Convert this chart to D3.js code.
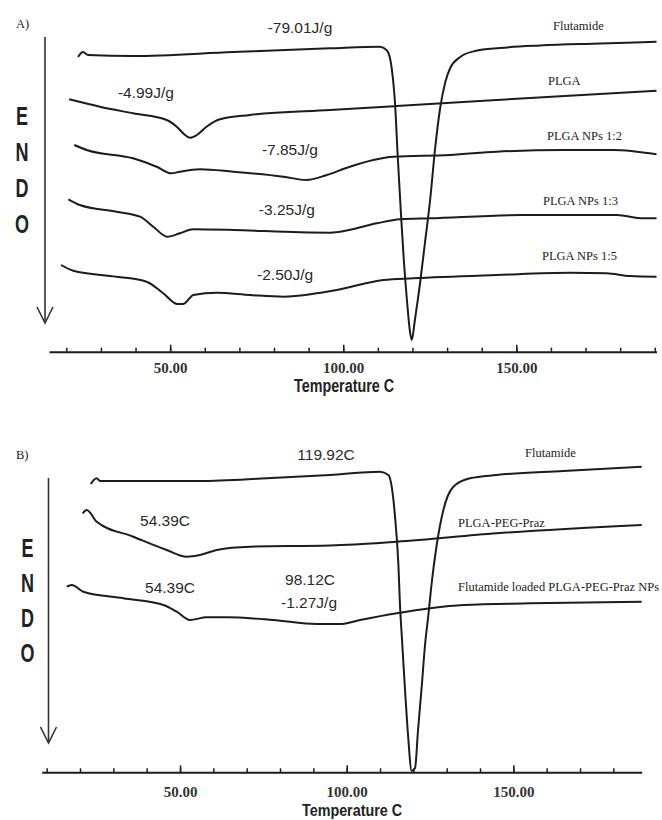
<!DOCTYPE html>
<html>
<head>
<meta charset="utf-8">
<title>DSC thermograms</title>
<style>
  body { margin: 0; background: #fff; }
  svg { display: block; }
</style>
</head>
<body>
<svg id="chart" width="662" height="820"></svg>
<script src="https://cdn.jsdelivr.net/npm/d3@7"></script>
<script>
// ---- data: [temperature C, heat flow (arbitrary units, offset per trace)] ----
// panel A
var flutA = [[23.4,29.47],[24.8,29.97],[26.3,29.67],[39.3,29.57],[68.1,29.97],[96.2,30.34],[110.6,30.5],
  [112.5,30.17],[113.5,29.37],[114.4,27.17],[114.9,25.17],[115.8,19.17],[116.7,13.67],[117.5,9.17],
  [118.4,5.17],[119.3,1.97],[119.8,1.17],[120.7,3.17],[122.2,6.87],[123.6,10.87],[125.1,15.17],
  [126.5,20.17],[128.0,24.37],[129.5,26.97],[130.9,28.37],[133.8,29.47],[138.1,30.07],[145.3,30.37],
  [156.8,30.62],[174.2,30.82],[190.5,31.0]];
var plgaA = [[20.8,25.24],[29.7,24.5],[39.3,23.84],[49.0,23.17],[51.9,22.5],[54.3,21.67],[55.7,21.4],
  [57.7,21.67],[60.5,22.5],[64.4,23.24],[73.1,23.67],[96.2,24.17],[115.4,24.57],[144.3,25.17],[190.5,26.1]];
var np12A = [[22.3,20.67],[25.9,20.17],[39.3,19.34],[46.1,18.5],[50.4,17.84],[52.8,18.0],[58.6,18.24],
  [68.2,18.0],[82.7,17.5],[89.4,17.17],[95.2,17.67],[101.9,18.5],[108.7,19.17],[114.5,19.5],[130.8,19.67],
  [144.3,20.0],[163.6,20.17],[178.0,20.17],[190.5,19.74]];
var np13A = [[20.6,15.24],[23.9,14.67],[34.5,14.0],[41.3,13.5],[45.1,12.5],[49.2,11.5],[52.8,11.84],
  [56.7,12.24],[68.2,12.17],[87.5,11.94],[96.2,11.9],[99.1,12.0],[109.7,12.84],[116.4,13.24],[125.1,13.34],
  [151.5,13.67],[179.0,13.67],[186.7,13.34],[190.5,13.34]];
var np15A = [[18.5,8.67],[22.0,8.1],[34.5,7.5],[43.2,7.0],[48.0,5.84],[52.1,4.77],[53.8,4.77],[56.7,5.67],
  [63.4,5.9],[73.1,5.67],[82.7,5.5],[92.3,5.84],[98.1,6.17],[111.6,7.17],[120.2,7.34],[144.3,7.67],
  [165.5,7.9],[176.1,7.84],[182.8,7.57],[190.5,7.5]];
// panel B
var flutB = [[23.2,28.83],[25.0,29.4],[26.0,29.13],[56.0,29.13],[76.0,29.4],[95.0,29.73],[110.0,30.06],
  [112.5,29.73],[113.5,28.56],[114.5,25.56],[115.5,20.8],[116.0,16.63],[116.6,13.23],[117.5,8.23],
  [118.4,3.73],[119.5,0.13],[120.5,0.43],[121.4,4.23],[122.5,8.56],[123.5,12.73],[124.5,15.73],
  [125.6,19.23],[127.0,22.73],[129.0,26.23],[132.0,28.56],[137.0,29.4],[145.0,29.73],[165.0,30.13],[188.5,30.56]];
var pegB = [[20.8,25.9],[22.0,26.23],[25.0,25.06],[36.0,23.56],[46.0,22.23],[52.0,21.56],[56.0,21.73],
  [61.0,22.23],[71.0,22.56],[95.0,22.68],[115.0,23.06],[145.0,23.9],[188.5,24.73]];
var loadedB = [[16.0,18.56],[17.5,18.73],[21.0,18.06],[33.0,17.4],[45.0,16.73],[49.0,16.06],[53.0,15.23],
  [58.0,15.5],[64.0,15.5],[78.0,15.23],[91.0,14.83],[98.0,14.83],[104.0,15.23],[115.0,15.9],[125.0,16.4],
  [135.0,16.73],[155.0,16.9],[188.5,17.06]];

var seriesA = ["Flutamide", "PLGA", "PLGA NPs 1:2", "PLGA NPs 1:3", "PLGA NPs 1:5"];
var seriesB = ["Flutamide", "PLGA-PEG-Praz", "Flutamide loaded PLGA-PEG-Praz NPs"];

// annotations: [text, temperature, heat flow]
var notesA = [["-79.01J/g",87.5,31.87],["-4.99J/g",43.0,25.37],["-7.85J/g",84.6,19.67],
  ["-3.25J/g",83.7,13.67],["-2.50J/g",83.2,7.17]];
var notesB = [["119.92C",93.8,31.23],["54.39C",45.5,24.63],["54.39C",47.0,17.93],
  ["98.12C",89.0,18.73],["-1.27J/g",88.7,16.43]];

var majorTicks = [50, 100, 150];
var minorA = d3.range(20, 191, 10);
var minorB = d3.range(10, 181, 10);

var svg = d3.select("#chart");
var ink = "#1c1c1c";

function panel(opt) {
  var x = d3.scaleLinear().domain(opt.xDomain).range(opt.xRange);
  var y = d3.scaleLinear().domain([0, 32]).range([opt.axisY, opt.axisY - 320]);
  var g = svg.append("g");

  // minor ticks
  g.append("g")
    .attr("transform", "translate(0," + opt.axisY + ")")
    .call(d3.axisBottom(x).tickValues(opt.minor).tickSizeInner(-4).tickSizeOuter(0).tickFormat(""))
    .call(function(a) {
      a.select(".domain").attr("stroke", ink).attr("stroke-width", 2);
      a.selectAll(".tick line").attr("stroke", ink).attr("stroke-width", 1.5);
    });
  // major ticks with labels
  g.append("g")
    .attr("transform", "translate(0," + opt.axisY + ")")
    .call(d3.axisBottom(x).tickValues(majorTicks).tickSizeInner(-7).tickSizeOuter(0)
      .tickPadding(opt.pad).tickFormat(d3.format(".2f")))
    .call(function(a) {
      a.select(".domain").remove();
      a.selectAll(".tick line").attr("stroke", ink).attr("stroke-width", 1.5);
      a.selectAll(".tick text").attr("fill", "#333")
        .style("font-family", "'Liberation Serif', serif")
        .style("font-weight", "bold").style("font-size", "15px");
    });

  g.append("text")
    .attr("x", opt.titleX).attr("y", opt.titleY)
    .attr("text-anchor", "middle")
    .attr("textLength", 100).attr("lengthAdjust", "spacingAndGlyphs")
    .style("font-family", "'Liberation Sans', Arial, sans-serif")
    .style("font-weight", "bold").style("font-size", opt.titleSize + "px")
    .attr("fill", "#222")
    .text("Temperature C");

  // ENDO arrow
  g.append("line")
    .attr("x1", opt.arrowX).attr("x2", opt.arrowX)
    .attr("y1", opt.arrowTop).attr("y2", opt.arrowTip)
    .attr("stroke", "#333").attr("stroke-width", 1.6);
  g.append("path")
    .attr("d", "M" + (opt.arrowX - 8) + "," + (opt.arrowTip - 16) + " L" + opt.arrowX + "," + opt.arrowTip +
      " L" + (opt.arrowX + 8) + "," + (opt.arrowTip - 16))
    .attr("fill", "none").attr("stroke", "#333").attr("stroke-width", 1.6);
  g.selectAll(".endo").data(["E", "N", "D", "O"]).enter().append("text")
    .attr("transform", function(d, i) {
      return "translate(" + opt.endoX + "," + (opt.endoY + i * opt.endoStep) + ") scale(0.72,1)";
    })
    .attr("text-anchor", "middle")
    .style("font-family", "'Liberation Sans', Arial, sans-serif")
    .style("font-weight", "bold").style("font-size", "25px")
    .attr("fill", "#222")
    .text(function(d) { return d; });

  // panel letter
  g.append("text")
    .attr("x", 16).attr("y", opt.letterY)
    .style("font-family", "'Liberation Serif', serif").style("font-size", "12.5px")
    .attr("fill", "#222")
    .text(opt.letter);

  // traces
  var line = d3.line()
    .x(function(d) { return x(d[0]); })
    .y(function(d) { return y(d[1]); })
    .curve(d3.curveMonotoneX);
  g.selectAll(".trace").data(opt.traces).enter().append("path")
    .attr("d", line)
    .attr("fill", "none").attr("stroke", ink).attr("stroke-width", 2)
    .attr("stroke-linejoin", "round");

  // trace names
  g.selectAll(".name").data(opt.names).enter().append("text")
    .attr("x", function(d, i) { return opt.nameX[i]; })
    .attr("y", function(d, i) { return opt.nameY[i]; })
    .style("font-family", "'Liberation Serif', serif").style("font-size", "12.5px")
    .attr("fill", "#222")
    .text(function(d) { return d; });

  // thermal annotations
  g.selectAll(".note").data(opt.notes).enter().append("text")
    .attr("x", function(d) { return x(d[1]); })
    .attr("y", function(d) { return y(d[2]); })
    .attr("text-anchor", "middle")
    .style("font-family", "'Liberation Sans', Arial, sans-serif").style("font-size", "15.5px")
    .attr("fill", "#2a2a2a")
    .text(function(d) { return d[0]; });
}

panel({
  xDomain: [15, 190.5], xRange: [49, 656.5], axisY: 351.7, pad: 10.5,
  minor: minorA, titleX: 344, titleY: 392, titleSize: 18,
  arrowX: 45, arrowTop: 37, arrowTip: 323,
  endoX: 22, endoY: 125, endoStep: 36,
  letter: "A)", letterY: 28,
  traces: [flutA, plgaA, np12A, np13A, np15A],
  names: seriesA, nameX: [553, 548, 547, 543, 542], nameY: [30, 85, 140, 205, 260],
  notes: notesA
});

panel({
  xDomain: [8.5, 188.5], xRange: [41.7, 641.7], axisY: 772.3, pad: 14,
  minor: minorB, titleX: 352, titleY: 816, titleSize: 16,
  arrowX: 48.5, arrowTop: 478, arrowTip: 743,
  endoX: 27.5, endoY: 557, endoStep: 35,
  letter: "B)", letterY: 459,
  traces: [flutB, pegB, loadedB],
  names: seriesB, nameX: [525, 458, 458], nameY: [457, 527, 591],
  notes: notesB
});
</script>
</body>
</html>
